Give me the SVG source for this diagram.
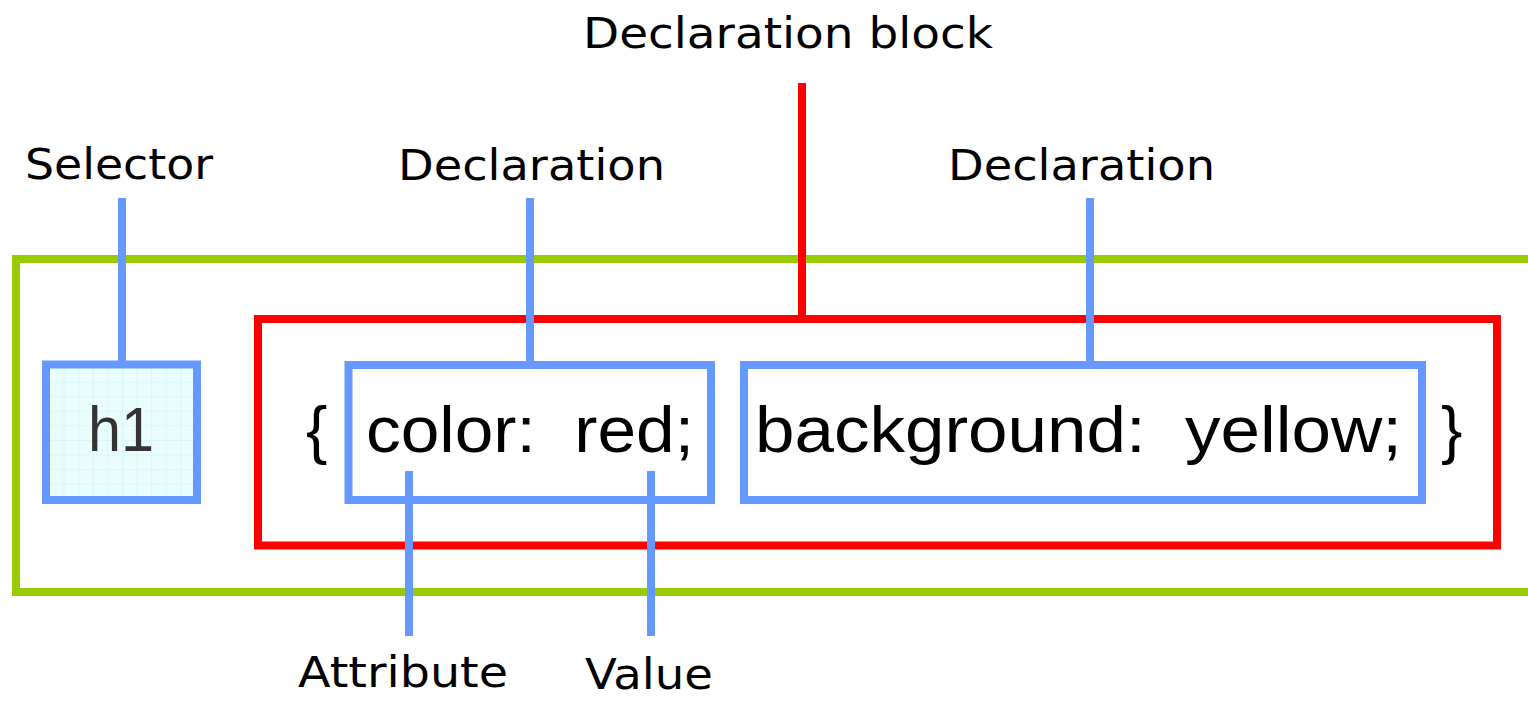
<svg xmlns="http://www.w3.org/2000/svg" width="1528" height="701" viewBox="0 0 1528 701">
  <defs>
    <pattern id="grid" x="50" y="368" width="14.6" height="14.6" patternUnits="userSpaceOnUse">
      <rect width="14.6" height="14.6" fill="#eafdfd"/>
      <path d="M14.6 0V14.6M0 14.6H14.6" stroke="#c9f1f1" stroke-width="1" fill="none"/>
    </pattern>
    <style>
      .lbl { font-family: "DejaVu Sans", "Liberation Sans", sans-serif; font-size: 43px; fill: #000; }
      .code { font-family: "Liberation Sans", Arial, sans-serif; font-size: 64px; fill: #000; }
      .blue { fill: none; stroke: #6699ff; stroke-width: 8; }
      .red { fill: none; stroke: #ff0000; stroke-width: 8; }
      .green { fill: none; stroke: #99cc00; stroke-width: 8; }
      .cb { stroke: #6699ff; stroke-width: 8; }
      .cr { stroke: #ff0000; stroke-width: 8; }
    </style>
  </defs>
  <rect width="1528" height="701" fill="#ffffff"/>

  <g id="rule">
    <rect class="green" x="16" y="259" width="1540" height="333"/>
  </g>

  <g id="declaration-block">
    <rect class="red" x="258" y="319" width="1239" height="226.5"/>
    <text class="code" x="306" y="452">{</text>
    <text class="code" x="1441" y="452">}</text>
  </g>

  <g id="selector">
    <rect x="46" y="364.5" width="151" height="135.5" fill="url(#grid)" stroke="#6699ff" stroke-width="8"/>
    <text x="121" y="451" text-anchor="middle" font-family="Liberation Sans, Arial, sans-serif" font-size="63" fill="#333333" textLength="66" lengthAdjust="spacingAndGlyphs">h1</text>
  </g>

  <g id="declaration-1">
    <rect class="blue" x="348.5" y="365" width="362.5" height="135"/>
    <text class="code" x="366" y="452" textLength="328" lengthAdjust="spacingAndGlyphs">color:&#160; red;</text>
  </g>

  <g id="declaration-2">
    <rect class="blue" x="744" y="365" width="678" height="135"/>
    <text class="code" x="755" y="452" textLength="647" lengthAdjust="spacingAndGlyphs">background:&#160; yellow;</text>
  </g>

  <g id="connectors">
    <line class="cb" x1="122" y1="198" x2="122" y2="361"/>
    <line class="cb" x1="530" y1="198" x2="530" y2="361"/>
    <line class="cb" x1="1090" y1="198" x2="1090" y2="361"/>
    <line class="cr" x1="802" y1="83" x2="802" y2="316"/>
    <line class="cb" x1="409" y1="471" x2="409" y2="636"/>
    <line class="cb" x1="651" y1="471" x2="651" y2="636"/>
  </g>

  <g id="labels">
    <text class="lbl" x="25" y="179" textLength="188" lengthAdjust="spacingAndGlyphs">Selector</text>
    <text class="lbl" x="398" y="180" textLength="267" lengthAdjust="spacingAndGlyphs">Declaration</text>
    <text class="lbl" x="948" y="180" textLength="267" lengthAdjust="spacingAndGlyphs">Declaration</text>
    <text class="lbl" x="583" y="48" textLength="410" lengthAdjust="spacingAndGlyphs">Declaration block</text>
    <text class="lbl" x="298" y="687" textLength="210" lengthAdjust="spacingAndGlyphs">Attribute</text>
    <text class="lbl" x="585" y="689" textLength="128" lengthAdjust="spacingAndGlyphs">Value</text>
  </g>
</svg>
